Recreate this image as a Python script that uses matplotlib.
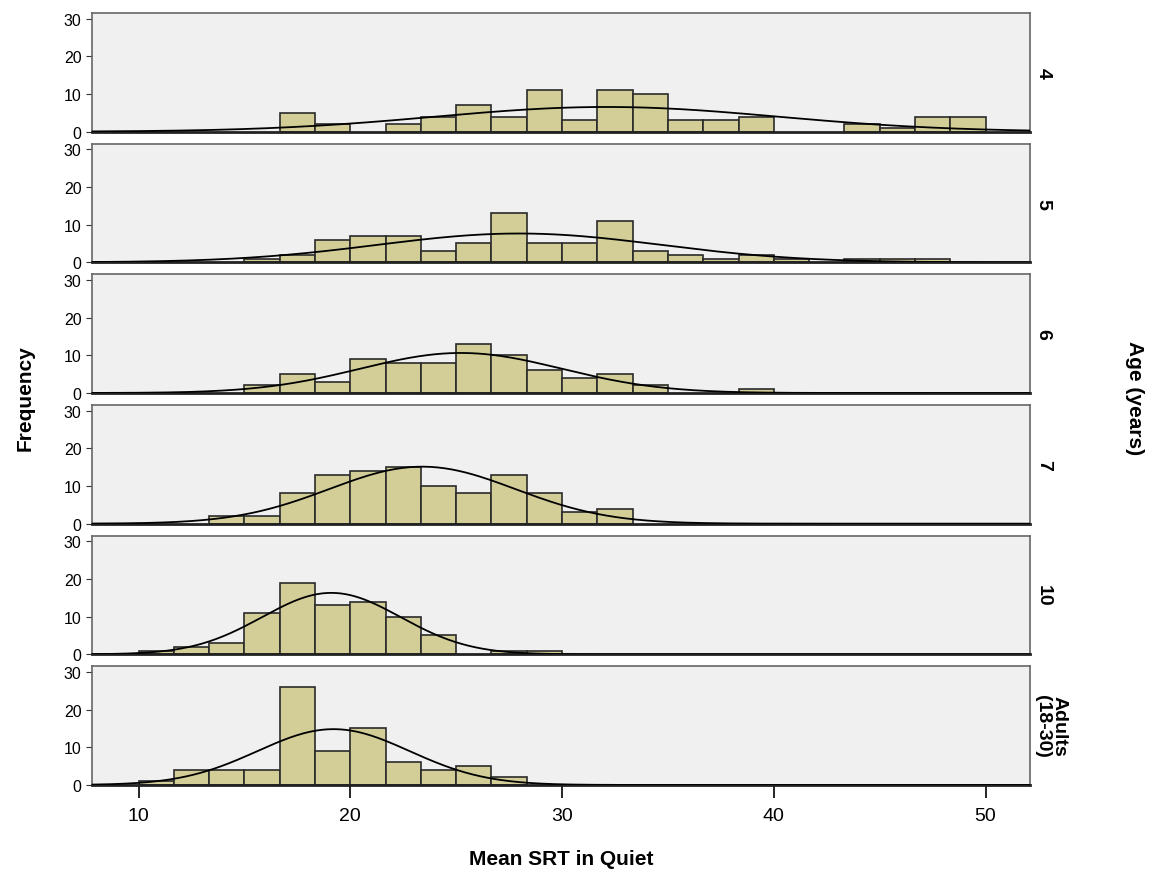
import matplotlib.pyplot as plt
import numpy as np

# age groups (facet labels) and histogram counts per bin
groups = ['4', '5', '6', '7', '10', 'Adults\n(18-30)']
bin_start = 10.0
bin_width = 5.0 / 3.0
counts_4 = [0, 0, 0, 0, 5, 2, 0, 2, 4, 7, 4, 11, 3, 11, 10, 3, 3, 4, 0, 0, 2, 1, 4, 4]
counts_5 = [0, 0, 0, 1, 2, 6, 7, 7, 3, 5, 13, 5, 5, 11, 3, 2, 1, 2, 1, 0, 1, 1, 1, 0]
counts_6 = [0, 0, 0, 2, 5, 3, 9, 8, 8, 13, 10, 6, 4, 5, 2, 0, 0, 1, 0, 0, 0, 0, 0, 0]
counts_7 = [0, 0, 2, 2, 8, 13, 14, 15, 10, 8, 13, 8, 3, 4, 0, 0, 0, 0, 0, 0, 0, 0, 0, 0]
counts_10 = [1, 2, 3, 11, 19, 13, 14, 10, 5, 0, 1, 1, 0, 0, 0, 0, 0, 0, 0, 0, 0, 0, 0, 0]
counts_adult = [1, 4, 4, 4, 26, 9, 15, 6, 4, 5, 2, 0, 0, 0, 0, 0, 0, 0, 0, 0, 0, 0, 0, 0]
all_counts = [counts_4, counts_5, counts_6, counts_7, counts_10, counts_adult]

x_ticks = [10, 20, 30, 40, 50]
y_ticks = [0, 10, 20, 30]

plt.rcParams['font.family'] = ['Liberation Sans Narrow', 'Liberation Sans', 'DejaVu Sans']

fig, axes = plt.subplots(6, 1, figsize=(11.58, 8.7), dpi=100, sharex=True)
fig.subplots_adjust(left=0.0794, right=0.8895, top=0.984, bottom=0.0966, hspace=0.1)

xs = np.linspace(7.8, 52.1, 400)
for ax, label, counts in zip(axes, groups, all_counts):
    counts = np.array(counts)
    edges = bin_start + bin_width * np.arange(len(counts) + 1)
    centers = edges[:-1] + bin_width / 2
    nz = counts > 0
    ax.set_facecolor('#f0f0f0')
    ax.bar(edges[:-1][nz], counts[nz], width=bin_width, align='edge',
           color='#d3ce97', edgecolor='#2a2a2a', linewidth=1.2, zorder=2)
    # normal curve fitted to the binned data
    n = counts.sum()
    mu = np.average(centers, weights=counts)
    sd = np.sqrt(np.average((centers - mu) ** 2, weights=counts))
    ys = n * bin_width * np.exp(-0.5 * ((xs - mu) / sd) ** 2) / (sd * np.sqrt(2 * np.pi))
    ax.plot(xs, ys, color='black', linewidth=1.3, zorder=3)

    ax.set_xlim(7.8, 52.1)
    ax.set_ylim(0, 31.5)
    ax.set_yticks(y_ticks)
    ax.tick_params(axis='y', labelsize=11.5, length=4, direction='out', color='#333333')
    ax.tick_params(axis='x', length=0)
    for s in ['top', 'right', 'left']:
        ax.spines[s].set_color('#666666')
        ax.spines[s].set_linewidth(1.2)
    ax.spines['bottom'].set_color('#222222')
    ax.spines['bottom'].set_linewidth(2)
    xpos = 1.022 if '\n' in label else 1.014
    ax.text(xpos, 0.5, label, transform=ax.transAxes, rotation=-90,
            ha='center', va='center', fontsize=14, fontweight='bold',
            family=['Liberation Sans', 'DejaVu Sans'], linespacing=0.9)

axes[-1].set_xticks(x_ticks)
axes[-1].tick_params(axis='x', labelsize=14, length=9, width=1.2, direction='out', pad=7)
axes[-1].set_xlabel('Mean SRT in Quiet', fontsize=15, fontweight='bold',
                    family=['Liberation Sans', 'DejaVu Sans'], labelpad=18)

fig.text(0.022, 0.542, 'Frequency', rotation=90, ha='center', va='center',
         fontsize=15, fontweight='bold', family=['Liberation Sans', 'DejaVu Sans'])
fig.text(0.98, 0.542, 'Age (years)', rotation=-90, ha='center', va='center',
         fontsize=15, fontweight='bold', family=['Liberation Sans', 'DejaVu Sans'])

fig.savefig('out.png', dpi=100, facecolor='white')
